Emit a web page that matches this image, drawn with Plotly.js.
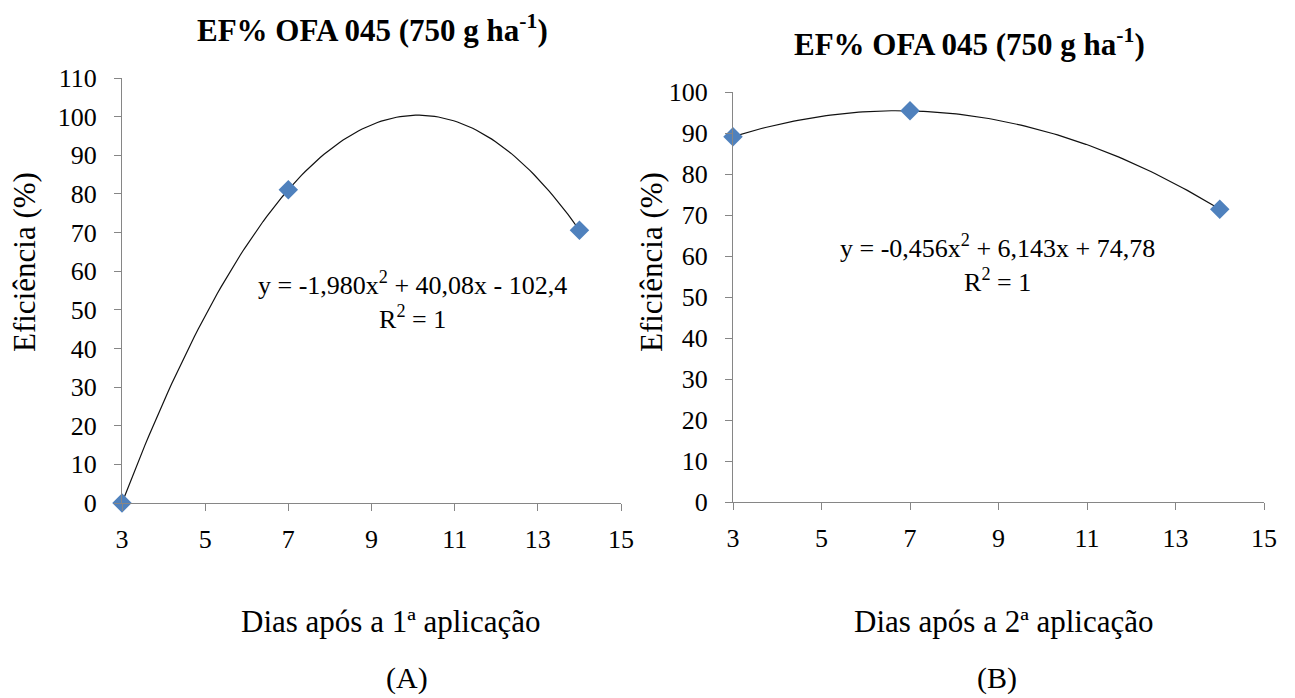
<!DOCTYPE html>
<html><head><meta charset="utf-8">
<script src="https://cdn.plot.ly/plotly-3.0.1.min.js"></script>
</head><body style="margin:0;padding:0;background:#fff">
<div id="chart" style="width:1295px;height:698px"></div>
<script>
// Data
const daysA = [3, 7, 14];
const effA = [0, 81.1, 70.6];
const daysB = [3, 7, 14];
const effB = [89.1, 95.4, 71.4];
const xTicks = [3, 5, 7, 9, 11, 13, 15];
const yTicksA = [0,10,20,30,40,50,60,70,80,90,100,110];
const yTicksB = [0,10,20,30,40,50,60,70,80,90,100];
const eqA = "y = -1,980x<sup>2</sup> + 40,08x - 102,4<br>R<sup>2</sup> = 1";
const eqB = "y = -0,456x<sup>2</sup> + 6,143x + 74,78<br>R<sup>2</sup> = 1";
const titleText = "<b>EF% OFA 045 (750 g ha<sup>-1</sup>)</b>";

// Quadratic trendline through the points (R² = 1, exact fit)
function quadCurve(xs, ys) {
  const [x0,x1,x2] = xs, [y0,y1,y2] = ys;
  const f = x => y0*(x-x1)*(x-x2)/((x0-x1)*(x0-x2)) + y1*(x-x0)*(x-x2)/((x1-x0)*(x1-x2)) + y2*(x-x0)*(x-x1)/((x2-x0)*(x2-x1));
  const cx = [], cy = [];
  const n = 120;
  for (let i = 0; i <= n; i++) { const x = x0 + (x2-x0)*i/n; cx.push(x); cy.push(f(x)); }
  return {cx, cy};
}
const cA = quadCurve(daysA, effA);
const cB = quadCurve(daysB, effB);

function F(size) { return {family: "Liberation Serif", size: size, color: "#000"}; }
const mk = {symbol: "diamond", size: 15, color: "#4F81BD"};

const traces = [
  {x: cA.cx, y: cA.cy, mode: "lines", line: {color: "#111", width: 1.2}, xaxis: "x", yaxis: "y", hoverinfo: "skip", cliponaxis: false},
  {x: daysA, y: effA, mode: "markers", marker: mk, xaxis: "x", yaxis: "y", cliponaxis: false},
  {x: cB.cx, y: cB.cy, mode: "lines", line: {color: "#111", width: 1.2}, xaxis: "x2", yaxis: "y2", hoverinfo: "skip", cliponaxis: false},
  {x: daysB, y: effB, mode: "markers", marker: mk, xaxis: "x2", yaxis: "y2", cliponaxis: false}
];

function xAx(dom, anchor) {
  return {
    domain: dom, anchor: anchor,
    range: [3, 15], tickvals: xTicks, ticktext: xTicks.map(String),
    showgrid: false, zeroline: false, showline: true, linecolor: "#868686", linewidth: 1,
    ticks: "outside", ticklen: 7, tickcolor: "#868686",
    tickfont: F(26), ticklabelstandoff: 6
  };
}
function yAx(dom, anchor, range, vals) {
  return {
    domain: dom, anchor: anchor, range: range, tickvals: vals, ticktext: vals.map(String),
    showgrid: false, zeroline: false, showline: true, linecolor: "#868686", linewidth: 1,
    ticks: "outside", ticklen: 7, tickcolor: "#868686",
    tickfont: F(26), ticklabelstandoff: 12
  };
}
function ann(text, px, py, size, extra) {
  return Object.assign({text: text, x: px/1295, y: 1-py/698, xref: "paper", yref: "paper", showarrow: false,
    xanchor: "center", yanchor: "middle", align: "center", borderpad: 0, font: F(size)}, extra || {});
}

const layout = {
  width: 1295, height: 698,
  margin: {l: 0, r: 0, t: 0, b: 0},
  paper_bgcolor: "#fff", plot_bgcolor: "#fff",
  font: {family: "Liberation Serif", size: 20, color: "#000"},
  showlegend: false,
  xaxis: xAx([122/1295, 621/1295], "y"),
  yaxis: yAx([1-503/698, 1-78/698], "x", [0, 110], yTicksA),
  xaxis2: xAx([733/1295, 1264/1295], "y2"),
  yaxis2: yAx([1-502/698, 1-92/698], "x2", [0, 100], yTicksB),
  annotations: [
    ann(titleText, 372, 28, 31),
    ann(titleText, 970, 43, 31),
    ann("Eficiência (%)", 24, 262, 31, {textangle: -90}),
    ann("Eficiência (%)", 651, 262, 31, {textangle: -90}),
    ann("Dias após a 1ª aplicação", 390, 621, 31),
    ann("Dias após a 2ª aplicação", 1003, 621, 31),
    ann("(A)", 407, 678, 30),
    ann("(B)", 997, 678, 30),
    ann(eqA, 412, 300, 26),
    ann(eqB, 998, 263, 26)
  ]
};

Plotly.newPlot("chart", traces, layout, {displayModeBar: false});
</script>
</body></html>
